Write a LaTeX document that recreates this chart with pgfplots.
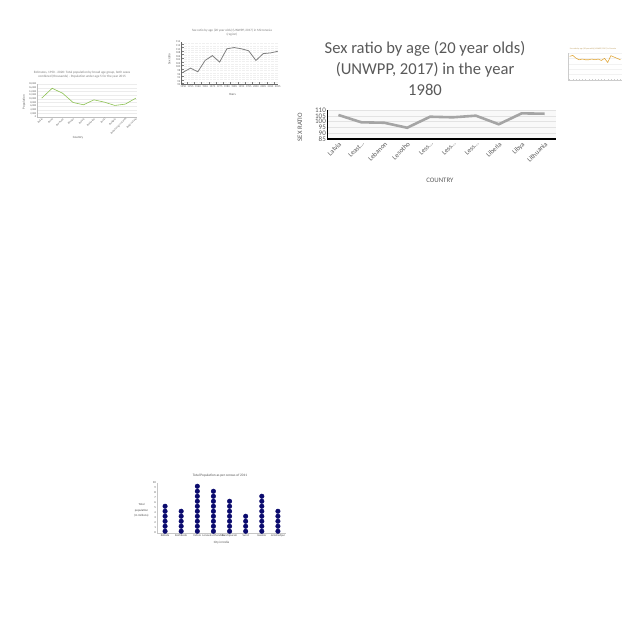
\documentclass[border=0pt]{standalone}
\usepackage{fontspec}
\setmainfont{Carlito}
\usepackage{pgfplots}
\pgfplotsset{compat=1.18}
\definecolor{txt}{HTML}{595959}
\definecolor{lgray}{HTML}{A5A5A5}
\definecolor{grn}{HTML}{8CC152}
\definecolor{gold}{HTML}{E0A73A}
\definecolor{navy}{HTML}{0B0B6E}
\begin{document}
\begin{tikzpicture}[x=1pt,y=1pt]
\useasboundingbox (0,0) rectangle (640,640);
% ---------------- main chart ----------------
\node[align=center, text=txt, font=\fontsize{16.6}{21}\selectfont] at (425,{640-68}) {Sex ratio by age (20 year olds)\\(UNWPP, 2017) in the year\\1980};
\begin{axis}[at={(327pt,501pt)}, anchor=south west, scale only axis,
  width=229pt, height=29pt,
  xmin=-0.5, xmax=9.5, ymin=85, ymax=110,
  ytick={85,90,...,110}, xtick={0,...,9},
  xticklabels={Latvia,Least…,Lebanon,Lesotho,Less…,Less…,Less…,Liberia,Libya,Lithuania},
  x tick label style={rotate=45, anchor=north east, font=\fontsize{6.8}{7}\selectfont, text=txt, inner sep=1.5pt},
  y tick label style={font=\fontsize{7}{6}\selectfont, text=txt, inner sep=1pt},
  /pgf/number format/assume math mode=true,
  axis x line*=bottom, axis y line*=left,
  x axis line style={black, line width=1.2pt, -},
  y axis line style={black, line width=0.8pt, -},
  major tick length=0pt,
  ymajorgrids, grid style={gray!22},
  axis background/.style={fill=gray!5},
  ylabel={SEX RATIO}, xlabel={COUNTRY},
  ylabel style={at={(axis description cs:-0.118,0.41)}, anchor=center, font=\fontsize{6.8}{7}\selectfont, text=txt},
  xlabel style={at={(axis description cs:0.493,-1.41)}, anchor=center, font=\fontsize{6.8}{7}\selectfont, text=txt},
]
\addplot[lgray, line width=2.6pt, mark=none] coordinates {
(0,105.7) (1,99.4) (2,99.0) (3,94.7) (4,104.2) (5,103.7) (6,105.1) (7,97.7) (8,107.1) (9,106.8)};
\end{axis}
% ---------------- chart 1 (top left, green) ----------------
\node[align=center, text=txt!80, font=\fontsize{3.3}{4}\selectfont] at (82,{640-75}) {Estimates, 1950 - 2020: Total population by broad age group, both sexes\\combined (thousands) - Population under age 5 for the year 2015};
\begin{axis}[at={(37pt,523pt)}, anchor=south west, scale only axis,
  width=100pt, height=33pt,
  xmin=-0.45, xmax=9.12, ymin=0, ymax=18000,
  ytick={0,2000,...,18000}, xtick={0,...,9},
  scaled y ticks=false,
  xticklabels={Belize,Benin,Bermuda,Bhutan,Bolivia,Botswana,Brazil,Bulgaria,British Virgin Islands,Burkina Faso},
  x tick label style={rotate=45, anchor=north east, font=\fontsize{2.6}{3}\selectfont, text=txt, inner sep=0.5pt},
  y tick label style={font=\fontsize{2.6}{3}\selectfont, text=txt, inner sep=0.5pt},
  /pgf/number format/assume math mode=true,
  axis x line*=bottom, axis y line*=left,
  axis line style={gray!50, line width=0.3pt, -},
  major tick length=0pt,
  ymajorgrids, grid style={gray!15, line width=0.3pt},
  ylabel={Population}, xlabel={Country},
  ylabel style={at={(axis description cs:-0.13,0.45)}, anchor=center, font=\fontsize{3.2}{3}\selectfont, text=txt},
  xlabel style={at={(axis description cs:0.41,-0.62)}, anchor=center, font=\fontsize{3.2}{3}\selectfont, text=txt},
]
\addplot[grn, line width=0.6pt, mark=none] coordinates {
(0,10260) (1,15660) (2,12960) (3,7920) (4,6660) (5,9360) (6,8100) (7,6300) (8,7020) (9,10260)};
\end{axis}
% ---------------- chart 2 (top middle, gray) ----------------
\node[align=center, text=txt!80, font=\fontsize{3.3}{4}\selectfont] at (232,{640-33}) {Sex ratio by age (20 year olds) (UNWPP, 2017) in Micronesia\\(region)};
\begin{axis}[at={(181pt,555pt)}, anchor=south west, scale only axis,
  width=97pt, height=43pt,
  xmin=-0.32, xmax=13.04, ymin=90, ymax=114,
  ytick={90,92,...,114}, xtick={0,...,13},
  xticklabels={1950,1955,1960,1965,1970,1975,1980,1985,1990,1995,2000,2005,2010,2015},
  x tick label style={font=\fontsize{2.8}{3}\selectfont, text=txt, inner sep=0.5pt},
  y tick label style={font=\fontsize{2.8}{3}\selectfont, text=txt, inner sep=0.5pt},
  /pgf/number format/assume math mode=true,
  axis x line*=bottom, axis y line*=left,
  x axis line style={gray!80!black, line width=1pt, -},
  y axis line style={gray!80!black, line width=0.6pt, -},
  major tick length=0pt,
  xmajorgrids, ymajorgrids, grid style={white, line width=0.3pt},
  minor x tick num=1, minor y tick num=1, xminorgrids, yminorgrids,
  minor grid style={white, line width=0.2pt},
  axis background/.style={fill=gray!12},
  ylabel={Sex ratio}, xlabel={Years},
  ylabel style={at={(axis description cs:-0.12,0.6)}, anchor=center, font=\fontsize{3.2}{3}\selectfont, text=txt},
  xlabel style={at={(axis description cs:0.53,-0.23)}, anchor=center, font=\fontsize{3.2}{3}\selectfont, text=txt},
]
\addplot[gray, line width=0.8pt, mark=none] coordinates {
(0,97.2) (1,99.4) (2,97.4) (3,103.7) (4,106.4) (5,102.8) (6,110.2) (7,110.9) (8,110.2) (9,109.1) (10,103.7) (11,107.5) (12,107.9) (13,108.8)};
\end{axis}
% ---------------- chart 3 (top right, gold) ----------------
\node[text=gold!60!gray, font=\fontsize{2}{2}\selectfont] at (593,{640-49}) {Sex ratio by age (20 year olds) (UNWPP, 2017) in Oceania};
\begin{axis}[at={(568pt,560pt)}, anchor=south west, scale only axis,
  width=54pt, height=27pt,
  xmin=-0.5, xmax=16.5, ymin=0, ymax=100,
  ytick={0,20,...,100}, xtick={0,...,16},
  xticklabels={},
  yticklabels={},
  axis x line*=bottom, axis y line*=left,
  axis line style={gray!40, line width=0.3pt, -},
  major tick length=0.8pt, tick style={gray!40, line width=0.2pt},
  ymajorgrids, grid style={gray!10, line width=0.2pt},
]
\addplot[gold, line width=0.6pt, mark=none] coordinates {
(0,87.5) (1,91) (2,81) (3,75) (4,77.5) (5,75) (6,75) (7,77.5) (8,75) (9,77.5) (10,72.5) (11,80) (12,65) (13,90) (14,85) (15,80) (16,75)};
\end{axis}
% ---------------- chart 4 (dot chart) ----------------
\node[text=txt!90!black, font=\fontsize{3.5}{4}\selectfont] at (220,{640-476}) {Total Population as per census of 2011};
\begin{axis}[at={(157pt,107pt)}, anchor=south west, scale only axis,
  width=129pt, height=50pt,
  xmin=-0.5, xmax=7.5, ymin=0, ymax=10,
  ytick={0,1,...,10}, xtick={0,...,7},
  xticklabels={Kolkata,Kozhikode,Indore,Lonavala-Khandala,Kanchipuram,Surat,Gwalior,Jamshedpur},
  x tick label style={font=\fontsize{2.9}{3}\selectfont, text=txt!80!black, inner sep=1pt},
  y tick label style={font=\fontsize{2.9}{3}\selectfont, text=txt!80!black, inner sep=1pt},
  /pgf/number format/assume math mode=true,
  axis x line*=bottom, axis y line*=left,
  axis line style={gray!45, line width=0.3pt, -},
  major tick length=0pt,
  ylabel={\shortstack{Total\\population\\(in millions)}}, xlabel={City in India},
  ylabel style={rotate=-90, at={(axis description cs:-0.12,0.45)}, anchor=center, font=\fontsize{3}{3.3}\selectfont, text=txt!80!black},
  xlabel style={at={(axis description cs:0.5,-0.2)}, anchor=center, font=\fontsize{3.2}{3}\selectfont, text=txt!80!black},
]
\addplot[only marks, mark=*, mark size=2.3pt, navy, mark options={fill=navy, draw=navy}] coordinates {
(0,0.35) (0,1.35) (0,2.35) (0,3.35) (0,4.35) (0,5.35)
(1,0.35) (1,1.35) (1,2.35) (1,3.35) (1,4.35)
(2,0.35) (2,1.35) (2,2.35) (2,3.35) (2,4.35) (2,5.35) (2,6.35) (2,7.35) (2,8.35) (2,9.35)
(3,0.35) (3,1.35) (3,2.35) (3,3.35) (3,4.35) (3,5.35) (3,6.35) (3,7.35) (3,8.35)
(4,0.35) (4,1.35) (4,2.35) (4,3.35) (4,4.35) (4,5.35) (4,6.35)
(5,0.35) (5,1.35) (5,2.35) (5,3.35)
(6,0.35) (6,1.35) (6,2.35) (6,3.35) (6,4.35) (6,5.35) (6,6.35) (6,7.35)
(7,0.35) (7,1.35) (7,2.35) (7,3.35) (7,4.35)};
\end{axis}
\end{tikzpicture}
\end{document}
